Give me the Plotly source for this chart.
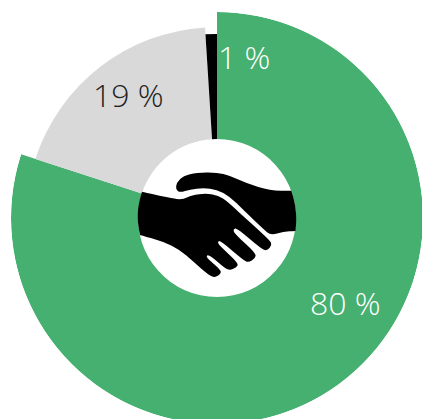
import plotly.graph_objects as go

# Shares of the three groups, clockwise from twelve o'clock
labels = ["Green", "Grey", "Black"]
shares = [80, 19, 1]
colors = ["#45B06F", "#D9D9D9", "#000000"]
text_colors = ["#FFFFFF", "#222222", "#FFFFFF"]

# Ring geometry per slice, in pixels of the radial axis
inner_radius = 79
outer_radius = [206, 191, 184]

FIG_W, FIG_H = 434, 436
CX, CY, R = 217, 218, 206
label_px = [(345, 302), (128, 95), (244, 56)]


def px(x, y):
    return x / FIG_W, 1 - y / FIG_H


# Handshake silhouette, outlined in a 3x grid around the hole.
# A repeated point keeps a hard corner where the hands meet the circle.
OX, OY = 130, 130
upper_hand = [(137, 178), (140, 158), (160, 138), (200, 128), (260, 127), (300, 137), (350, 160),
              (420, 182), (484, 182), (484, 182), (491, 205), (497, 235), (499, 264), (498, 290),
              (496, 303), (496, 303), (460, 305), (422, 316),
              (400, 297), (340, 240), (300, 200), (260, 178), (220, 174), (180, 178), (150, 188)]
lower_hand = [(36, 185), (36, 185), (90, 197), (135, 207), (160, 208), (185, 195), (230, 190), (265, 197),
              (290, 212), (330, 250), (380, 295), (420, 332), (426, 345), (412, 362), (395, 358),
              (322, 295), (310, 296), (312, 310), (378, 370), (376, 385), (355, 398), (340, 390),
              (270, 331), (262, 336), (270, 348), (326, 400), (320, 412), (300, 421), (285, 415),
              (238, 374), (228, 377), (235, 388), (273, 420), (272, 432), (255, 443), (235, 435),
              (190, 395), (150, 360), (100, 335), (30, 315), (30, 315), (25, 290), (23, 264),
              (24, 235), (29, 210)]


def smooth_path(points):
    # Quadratic segments through the edge midpoints, which softens the outline's corners
    pts = [(OX + x / 3, OY + y / 3) for x, y in points]
    n = len(pts)
    mids = [((pts[i][0] + pts[(i + 1) % n][0]) / 2, (pts[i][1] + pts[(i + 1) % n][1]) / 2) for i in range(n)]
    mx, my = px(*mids[-1])
    d = f"M{mx:.5f},{my:.5f}"
    for i in range(n):
        cx_, cy_ = px(*pts[i])
        ex, ey = px(*mids[i])
        d += f" Q{cx_:.5f},{cy_:.5f} {ex:.5f},{ey:.5f}"
    return d + " Z"


# Slice centres and widths follow from the shares
starts = [sum(shares[:i]) for i in range(len(shares))]
theta = [(s + v / 2) * 3.6 for s, v in zip(starts, shares)]
width = [v * 3.6 for v in shares]

fig = go.Figure(
    go.Barpolar(
        theta=theta,
        width=width,
        r=[o - inner_radius for o in outer_radius],
        base=inner_radius,
        customdata=labels,
        marker=dict(color=colors, line=dict(width=0)),
        opacity=1,
        hoverinfo="skip",
    )
)

x0, y1 = px(CX - R, CY - R)
x1, y0 = px(CX + R, CY + R)

fig.update_layout(
    width=FIG_W,
    height=FIG_H,
    autosize=False,
    margin=dict(l=0, r=0, t=0, b=0),
    paper_bgcolor="white",
    showlegend=False,
    polar=dict(
        domain=dict(x=[x0, x1], y=[y0, y1]),
        bgcolor="white",
        radialaxis=dict(range=[0, R], visible=False),
        angularaxis=dict(direction="clockwise", rotation=90, visible=False),
    ),
    shapes=[
        dict(type="path", xref="paper", yref="paper", path=smooth_path(p),
             fillcolor="black", line=dict(width=0), layer="above")
        for p in (upper_hand, lower_hand)
    ],
    annotations=[
        dict(
            x=px(*pos)[0], y=px(*pos)[1], xref="paper", yref="paper",
            text=f"{v} %", showarrow=False, xanchor="center", yanchor="middle",
            font=dict(family="Open Sans", size=32, color=c, weight=300),
        )
        for v, pos, c in zip(shares, label_px, text_colors)
    ],
)

# The ring runs past the window's right and bottom edges, so the page itself must not scroll
fig.write_html("out.html", post_script="document.documentElement.style.overflow='hidden';document.body.style.overflow='hidden';")
